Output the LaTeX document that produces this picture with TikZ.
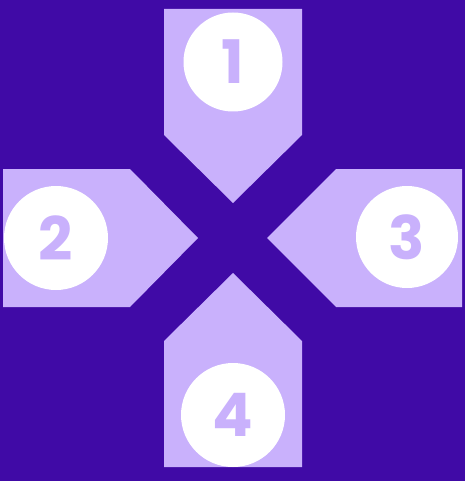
\documentclass[tikz,border=0pt]{standalone}
\usepackage{fontspec}
\setmainfont{Poppins}
\usepackage{xcolor}
\usepackage{tikz}
\definecolor{bgpurple}{RGB}{64,10,166}
\definecolor{lilac}{RGB}{201,177,252}

\begin{document}
\begin{tikzpicture}[x=1pt,y=-1pt,
  numdisc/.style={circle,fill=white,inner sep=0pt,text=lilac,
    font=\fontsize{60}{60}\selectfont\bfseries}]
  % ---- background ----
  \fill[bgpurple] (0,0) rectangle (465,481);
  \useasboundingbox (0,0) rectangle (465,481);
  % ---- the four arrows, pointing at the centre ----
  \fill[lilac] (164,9) -- (302,9) -- (302,135) -- (233,203) -- (164,135) -- cycle;   % top
  \fill[lilac] (3,169) -- (130,169) -- (198,238) -- (130,307) -- (3,307) -- cycle;   % left
  \fill[lilac] (462,169) -- (336,169) -- (267,238) -- (336,307) -- (462,307) -- cycle; % right
  \fill[lilac] (164,467) -- (164,341) -- (233,273) -- (302,341) -- (302,467) -- cycle; % bottom
  % ---- numbered discs ----
  \foreach \i/\cx/\cy/\r in {1/233/62/99,2/56/238/104,3/407/237/102,4/233/415/104}{
    \node[numdisc,minimum size=\r pt] (disc\i) at (\cx,\cy) {\i};}
\end{tikzpicture}
\end{document}
